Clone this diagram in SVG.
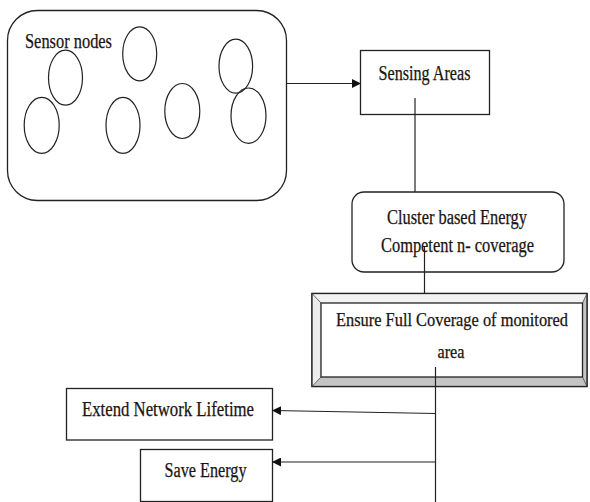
<svg xmlns="http://www.w3.org/2000/svg" width="590" height="502" viewBox="0 0 590 502">
<style>
.b{fill:#fff;stroke:#222;stroke-width:1.3}
.e{fill:none;stroke:#222;stroke-width:1.2}
.t{font-family:"Liberation Serif","Times New Roman",serif;font-size:20px;fill:#1a1410;stroke:#1a1410;stroke-width:0.25}
.s{font-size:18px}
.c{fill:none;stroke:#222;stroke-width:1.2}
</style>
<defs>
<marker id="ah" markerWidth="9" markerHeight="9" refX="8" refY="4.5" orient="auto" markerUnits="userSpaceOnUse">
<path d="M0,0 L9,4.5 L0,9 Z" fill="#111"/>
</marker>
</defs>
<rect width="590" height="502" fill="#fff"/>
<g id="sensor-nodes">
<rect class="b" x="7.5" y="10.5" width="279" height="190" rx="30" ry="30"/>
<text class="t" x="25" y="48" textLength="87" lengthAdjust="spacingAndGlyphs">Sensor nodes</text>
<ellipse class="e" cx="65.5" cy="77.7" rx="17" ry="27.5"/>
<ellipse class="e" cx="139.7" cy="53.8" rx="17" ry="27"/>
<ellipse class="e" cx="41.7" cy="125.3" rx="17.5" ry="28"/>
<ellipse class="e" cx="123" cy="125.3" rx="17" ry="28"/>
<ellipse class="e" cx="182.3" cy="111" rx="17.5" ry="27.5"/>
<ellipse class="e" cx="235.8" cy="66.2" rx="16.8" ry="27"/>
<ellipse class="e" cx="248.5" cy="115.7" rx="17.5" ry="27.7"/>
</g>
<g id="sensing-areas">
<rect class="b" x="360.5" y="50.5" width="129" height="64"/>
<text class="t" x="424.5" y="79.5" text-anchor="middle" textLength="92" lengthAdjust="spacingAndGlyphs">Sensing Areas</text>
</g>
<g id="cluster">
<rect class="b" x="352" y="192" width="212" height="80" rx="12" ry="12"/>
<text class="t" x="457" y="223.5" text-anchor="middle" textLength="140" lengthAdjust="spacingAndGlyphs">Cluster based Energy</text>
<text class="t" x="457.5" y="251.5" text-anchor="middle" textLength="153" lengthAdjust="spacingAndGlyphs">Competent n- coverage</text>
</g>
<g id="ensure">
<rect x="312" y="293.5" width="275" height="93" fill="#fff" stroke="#222" stroke-width="1.3"/>
<polygon points="582.5,303 587,293.5 587,386.5 582.5,377" fill="#c4c4c4"/>
<polygon points="321,377 582.5,377 587,386.5 312,386.5" fill="#c4c4c4"/>
<polygon points="312,293.5 587,293.5 582.5,303 321,303" fill="#f2f2f2"/>
<polygon points="312,293.5 321,303 321,377 312,386.5" fill="#ececec"/>
<rect x="312" y="293.5" width="275" height="93" fill="none" stroke="#222" stroke-width="1.3"/>
<rect x="321" y="303" width="261.5" height="74" fill="#fff" stroke="#222" stroke-width="1.3"/>
<line x1="312" y1="293.5" x2="321" y2="303" stroke="#444" stroke-width="0.8"/>
<line x1="587" y1="293.5" x2="582.5" y2="303" stroke="#444" stroke-width="0.8"/>
<line x1="312" y1="386.5" x2="321" y2="377" stroke="#444" stroke-width="0.8"/>
<line x1="587" y1="386.5" x2="582.5" y2="377" stroke="#444" stroke-width="0.8"/>
<text class="t s" x="452" y="326" text-anchor="middle" textLength="232" lengthAdjust="spacingAndGlyphs">Ensure Full Coverage of monitored</text>
<text class="t s" x="451" y="357.5" text-anchor="middle" textLength="27" lengthAdjust="spacingAndGlyphs">area</text>
</g>
<g id="extend">
<rect class="b" x="66.5" y="388.5" width="206" height="51.5"/>
<text class="t" x="168" y="416" text-anchor="middle" textLength="172" lengthAdjust="spacingAndGlyphs">Extend Network Lifetime</text>
</g>
<g id="save">
<rect class="b" x="140.5" y="449.5" width="132" height="52"/>
<text class="t" x="205.5" y="477" text-anchor="middle" textLength="82" lengthAdjust="spacingAndGlyphs">Save Energy</text>
</g>
<g id="connectors">
<line class="c" x1="286" y1="83.5" x2="360" y2="83.5" marker-end="url(#ah)"/>
<line class="c" x1="415" y1="98" x2="415" y2="192"/>
<line class="c" x1="424.5" y1="247" x2="424.5" y2="293.5"/>
<line class="c" x1="435.5" y1="367" x2="435.5" y2="502"/>
<line class="c" x1="435.5" y1="413.5" x2="273" y2="410.5" marker-end="url(#ah)"/>
<line class="c" x1="435.5" y1="462" x2="273" y2="462" marker-end="url(#ah)"/>
</g>
</svg>
